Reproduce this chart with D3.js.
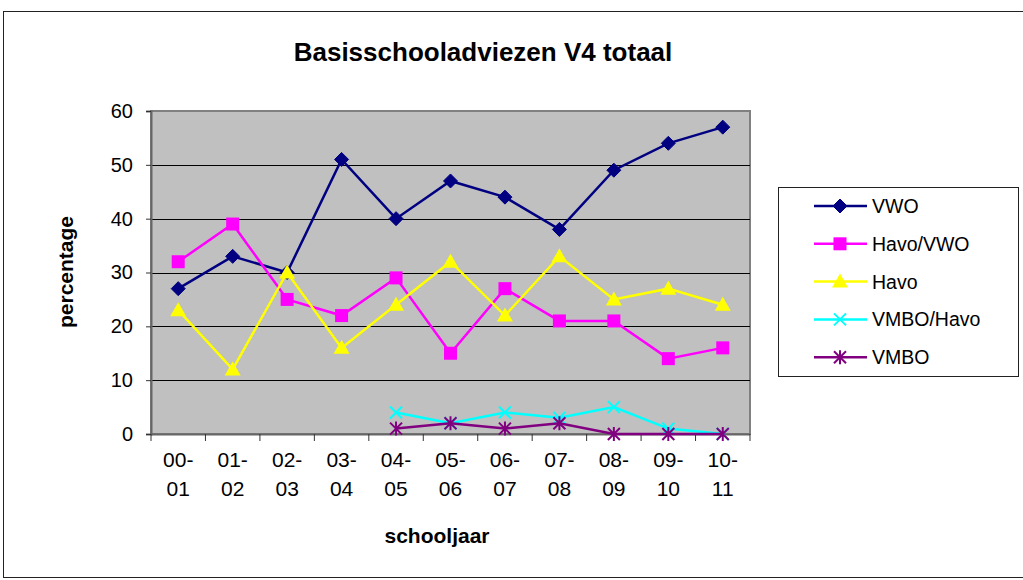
<!DOCTYPE html>
<html>
<head>
<meta charset="utf-8">
<script src="https://cdn.jsdelivr.net/npm/d3@7"></script>
<style>
  body { margin: 0; background: #fff; }
  svg text { font-family: "Liberation Sans", Arial, sans-serif; }
</style>
</head>
<body>
<div id="chart"></div>
<script>
// school years (two-line labels)
var years = ["00-01","01-02","02-03","03-04","04-05","05-06","06-07","07-08","08-09","09-10","10-11"];
var yTicks = [0, 10, 20, 30, 40, 50, 60];

var vwo      = [27, 33, 30, 51, 40, 47, 44, 38, 49, 54, 57];
var havoVwo  = [32, 39, 25, 22, 29, 15, 27, 21, 21, 14, 16];
var havo     = [23, 12, 30, 16, 24, 32, 22, 33, 25, 27, 24];
var vmboHavo = [null, null, null, null, 4, 2, 4, 3, 5, 1, 0];
var vmbo     = [null, null, null, null, 1, 2, 1, 2, 0, 0, 0];

var series = [
  {name: "VWO",        values: vwo,      color: "#000080", sym: "diamond"},
  {name: "Havo/VWO",   values: havoVwo,  color: "#FF00FF", sym: "square"},
  {name: "Havo",       values: havo,     color: "#FFFF00", sym: "triangle"},
  {name: "VMBO/Havo",  values: vmboHavo, color: "#00FFFF", sym: "x"},
  {name: "VMBO",       values: vmbo,     color: "#800080", sym: "star"}
];

var W = 1023, H = 580;
var plot = {left: 151, right: 750, top: 111, bottom: 434};

var svg = d3.select("#chart").append("svg").attr("width", W).attr("height", H);

// outer chart frame
svg.append("rect").attr("x", 3.5).attr("y", 11.5).attr("width", W + 10).attr("height", H - 14)
  .attr("fill", "#fff").attr("stroke", "#222").attr("stroke-width", 1);

var x = d3.scaleBand().domain(years).range([plot.left, plot.right]);
var y = d3.scaleLinear().domain([0, 60]).range([plot.bottom, plot.top]);

// plot background
svg.append("rect").attr("x", plot.left).attr("y", plot.top)
  .attr("width", plot.right - plot.left).attr("height", plot.bottom - plot.top)
  .attr("fill", "#C0C0C0").attr("stroke", "#808080").attr("stroke-width", 2);

// gridlines
svg.append("g").selectAll("line").data(yTicks.slice(1, -1)).join("line")
  .attr("x1", plot.left).attr("x2", plot.right)
  .attr("y1", d => Math.round(y(d)) + 0.5).attr("y2", d => Math.round(y(d)) + 0.5)
  .attr("stroke", "#000").attr("stroke-width", 1);

// y axis
var yAxis = svg.append("g").attr("transform", "translate(" + plot.left + ",0)")
  .call(d3.axisLeft(y).tickValues(yTicks).tickSize(5).tickPadding(13));
yAxis.select(".domain").attr("stroke", "#666").attr("stroke-width", 2);
yAxis.selectAll(".tick line").attr("stroke", "#333");
yAxis.selectAll("text").attr("font-size", 20).attr("fill", "#000")
  .attr("font-family", "Liberation Sans, Arial, sans-serif");

// x axis: ticks between categories
var xg = svg.append("g");
xg.append("line").attr("x1", plot.left).attr("x2", plot.right)
  .attr("y1", plot.bottom + 0.5).attr("y2", plot.bottom + 0.5).attr("stroke", "#666").attr("stroke-width", 2);
var bounds = years.map(d => x(d)).concat([plot.right]);
xg.selectAll("line.tk").data(bounds).join("line").attr("class", "tk")
  .attr("x1", d => d).attr("x2", d => d)
  .attr("y1", plot.bottom).attr("y2", plot.bottom + 7).attr("stroke", "#333");
var xl = xg.selectAll("text.lbl").data(years).join("text").attr("class", "lbl")
  .attr("text-anchor", "middle").attr("font-size", 21).attr("fill", "#000");
xl.append("tspan").attr("x", d => x(d) + x.bandwidth() / 2).attr("y", 467).text(d => d.split("-")[0] + "-");
xl.append("tspan").attr("x", d => x(d) + x.bandwidth() / 2).attr("y", 496).text(d => d.split("-")[1]);

// titles
svg.append("text").attr("x", 483).attr("y", 61).attr("text-anchor", "middle")
  .attr("font-size", 26).attr("font-weight", "bold").text("Basisschooladviezen V4 totaal");
svg.append("text").attr("x", 437).attr("y", 543).attr("text-anchor", "middle")
  .attr("font-size", 21).attr("font-weight", "bold").text("schooljaar");
svg.append("text").attr("transform", "translate(73,272) rotate(-90)").attr("text-anchor", "middle")
  .attr("font-size", 21).attr("font-weight", "bold").text("percentage");

function marker(g, sym, color, cx, cy) {
  if (sym === "diamond") {
    g.append("path").attr("d", "M" + cx + "," + (cy - 7) + "L" + (cx + 7) + "," + cy + "L" + cx + "," + (cy + 7) + "L" + (cx - 7) + "," + cy + "Z")
      .attr("fill", color).attr("stroke", color);
  } else if (sym === "square") {
    g.append("rect").attr("x", cx - 6.5).attr("y", cy - 6.5).attr("width", 13).attr("height", 13).attr("fill", color);
  } else if (sym === "triangle") {
    g.append("path").attr("d", "M" + cx + "," + (cy - 8) + "L" + (cx + 8) + "," + (cy + 6) + "L" + (cx - 8) + "," + (cy + 6) + "Z")
      .attr("fill", color);
  } else if (sym === "x") {
    g.append("path").attr("d", "M" + (cx - 6) + "," + (cy - 6) + "L" + (cx + 6) + "," + (cy + 6) + "M" + (cx + 6) + "," + (cy - 6) + "L" + (cx - 6) + "," + (cy + 6))
      .attr("stroke", color).attr("stroke-width", 2);
  } else if (sym === "star") {
    g.append("path").attr("d", "M" + (cx - 6) + "," + (cy - 6) + "L" + (cx + 6) + "," + (cy + 6) + "M" + (cx + 6) + "," + (cy - 6) + "L" + (cx - 6) + "," + (cy + 6) + "M" + cx + "," + (cy - 7) + "L" + cx + "," + (cy + 7))
      .attr("stroke", color).attr("stroke-width", 2);
  }
}

var line = d3.line().defined(d => d != null)
  .x((d, i) => x(years[i]) + x.bandwidth() / 2).y(d => y(d));

series.forEach(function(s) {
  var g = svg.append("g");
  g.append("path").datum(s.values).attr("d", line).attr("fill", "none")
    .attr("stroke", s.color).attr("stroke-width", 2.5);
  s.values.forEach(function(v, i) {
    if (v == null) return;
    marker(g, s.sym, s.color, x(years[i]) + x.bandwidth() / 2, y(v));
  });
});

// legend
var lg = svg.append("g");
lg.append("rect").attr("x", 778.5).attr("y", 187.5).attr("width", 240).attr("height", 189)
  .attr("fill", "#fff").attr("stroke", "#222");
series.forEach(function(s, i) {
  var ly = 206 + i * 37.8;
  lg.append("line").attr("x1", 814).attr("x2", 867).attr("y1", ly).attr("y2", ly)
    .attr("stroke", s.color).attr("stroke-width", 2.5);
  marker(lg, s.sym, s.color, 840, ly);
  lg.append("text").attr("x", 872).attr("y", ly + 7).attr("font-size", 19.5).text(s.name);
});
</script>
</body>
</html>
